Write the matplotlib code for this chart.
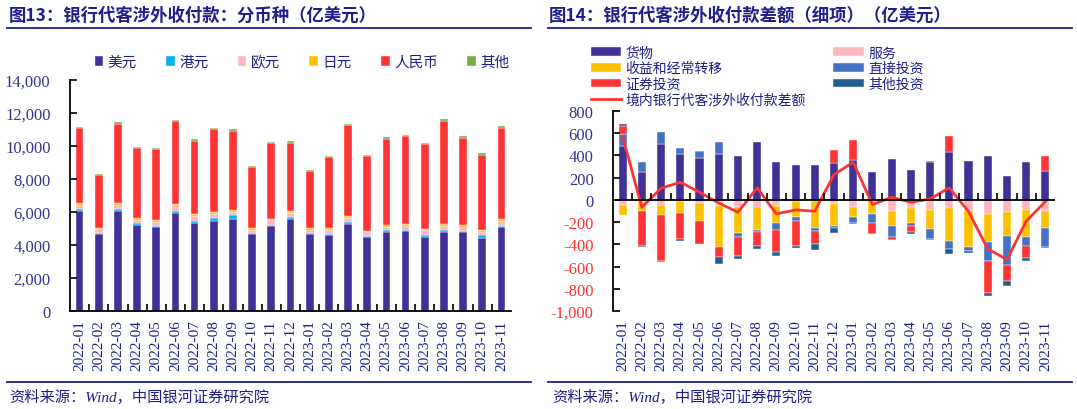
import numpy as np
import matplotlib
matplotlib.use('Agg')
from matplotlib import pyplot as plt
from matplotlib.ticker import FuncFormatter, FixedLocator

# Latin glyphs in Times-like serif, CJK glyphs fall back to Noto Sans CJK
plt.rcParams['font.family'] = ['Liberation Serif', 'Noto Sans CJK SC', 'DejaVu Sans']
plt.rcParams['axes.unicode_minus'] = False

months = ['2022-01', '2022-02', '2022-03', '2022-04', '2022-05', '2022-06', '2022-07', '2022-08',
          '2022-09', '2022-10', '2022-11', '2022-12', '2023-01', '2023-02', '2023-03', '2023-04',
          '2023-05', '2023-06', '2023-07', '2023-08', '2023-09', '2023-10', '2023-11']

# left chart: payments by currency (100 million USD)
usd = [6090, 4680, 6070, 5240, 5120, 5950, 5360, 5460, 5600, 4640, 5140, 5600,
       4640, 4580, 5300, 4460, 4780, 4820, 4480, 4800, 4760, 4440, 5100]
hkd = [100, 40, 140, 80, 60, 120, 120, 190, 190, 80, 100, 90,
       80, 80, 80, 60, 120, 100, 140, 120, 80, 140, 80]
eur = [240, 220, 220, 220, 240, 360, 270, 240, 240, 200, 280, 260,
       200, 260, 260, 240, 220, 240, 280, 260, 280, 200, 260]
jpy = [120, 120, 120, 120, 80, 80, 100, 100, 100, 100, 80, 120,
       100, 100, 110, 100, 120, 120, 100, 120, 80, 100, 120]
rmb = [4520, 3210, 4800, 4200, 4340, 5000, 4470, 5020, 4800, 3690, 4580, 4130,
       3490, 4330, 5500, 4530, 5200, 5320, 5100, 6210, 5300, 4600, 5550]
other_cur = [60, 40, 100, 80, 60, 80, 80, 80, 80, 60, 60, 100,
             60, 60, 80, 70, 80, 60, 100, 120, 100, 120, 80]
cur_names = ['美元', '港元', '欧元', '日元', '人民币', '其他']

# right chart: net balance by item (100 million USD)
goods = [483, 255, 504, 414, 378, 414, 399, 525, 345, 315, 318, 333,
         363, 249, 369, 270, 345, 435, 348, 396, 219, 345, 258]
services = [-42, -20, -42, -10, -30, -51, -60, -60, -51, -10, -10, -36,
            -66, -10, -96, -72, -87, -75, -96, -126, -111, -90, -96]
income = [-90, -76, -90, -107, -156, -375, -237, -210, -156, -140, -242, -201,
          -84, -116, -141, -135, -174, -291, -330, -249, -210, -246, -159]
direct = [114, 84, 105, 57, 60, 105, -33, -15, -63, -36, -30, -15,
          -60, -81, -99, -30, -90, -75, -30, -171, -264, -81, -165]
securities = [66, -321, -414, -234, -210, -84, -171, -132, -195, -231, -114, 117,
              180, -99, -24, -54, -6, 138, -8, -294, -147, -108, 135]
other_inv = [21, -9, -15, -21, 6, -66, -30, -24, -36, -18, -54, -48,
             -6, -3, -5, -15, 5, -45, -15, -21, -39, -21, -9]
net_total = [570, -66, 105, 159, 69, -27, -111, 108, -126, -90, -102, 228,
             339, -42, 24, -21, 9, 108, -105, -441, -537, -192, -15]

navy = '#1E1E8C'
tick_blue = '#34348F'
red = '#FF3333'
sans_cjk = ['Noto Sans CJK SC', 'DejaVu Sans']

fig = plt.figure(figsize=(10.77, 4.10), dpi=100)

# ---------- left chart
ax1 = fig.add_axes([70 / 1077, 1 - 312 / 410, 441 / 1077, 231 / 410])
x = np.arange(len(months))
cur_colors = ['#3F3196', '#00B0F0', '#FFB6BC', '#FFC000', '#FF3333', '#70AD47']
bottom = np.zeros(len(months))
for vals, name, c in zip([usd, hkd, eur, jpy, rmb, other_cur], cur_names, cur_colors):
    ax1.bar(x, vals, 0.4, bottom=bottom, color=c, label=name, edgecolor='white', linewidth=0.3)
    bottom = bottom + np.array(vals)

ax1.set_xlim(-0.5, len(months) - 0.5)
ax1.set_ylim(0, 14000)
ax1.set_yticks(np.arange(0, 14001, 2000))
ax1.yaxis.set_major_formatter(FuncFormatter(lambda v, p: f'{v:,.0f}'))
ax1.set_xticks(x)
ax1.set_xticklabels(months, rotation=90)
ax1.xaxis.set_minor_locator(FixedLocator(x[:-1] + 0.5))
ax1.tick_params(axis='x', which='major', length=0, pad=6, labelsize=11, labelcolor=navy)
ax1.tick_params(axis='x', which='minor', direction='in', length=5, width=1.2)
ax1.tick_params(axis='y', direction='in', length=5, width=1.2, labelsize=12, labelcolor=tick_blue, pad=14)
for s in ['top', 'right']:
    ax1.spines[s].set_visible(False)
for s in ['left', 'bottom']:
    ax1.spines[s].set_linewidth(1.3)

fig.legend(*ax1.get_legend_handles_labels(), loc='center', ncol=6,
           bbox_to_anchor=(302 / 1077, 1 - 63 / 410), frameon=False,
           handlelength=0.6, handleheight=0.6, handletextpad=0.3, columnspacing=2.0,
           prop={'size': 10.5, 'family': sans_cjk}, labelcolor=navy)

# ---------- right chart
ax2 = fig.add_axes([613 / 1077, 1 - 312 / 410, 442 / 1077, 200 / 410])
item_names = ['货物', '服务', '收益和经常转移', '直接投资', '证券投资', '其他投资']
item_colors = ['#3F3196', '#FFB6BC', '#FFC000', '#4472C4', '#FF3333', '#235D91']
pos_b = np.zeros(len(months))
neg_b = np.zeros(len(months))
bars = []
for vals, name, c in zip([goods, services, income, direct, securities, other_inv], item_names, item_colors):
    v = np.array(vals, dtype=float)
    b = np.where(v >= 0, pos_b, neg_b)
    bars.append(ax2.bar(x, v, 0.42, bottom=b, color=c, label=name, edgecolor='white', linewidth=0.3))
    pos_b = pos_b + np.where(v >= 0, v, 0)
    neg_b = neg_b + np.where(v < 0, v, 0)
line, = ax2.plot(x, net_total, color=red, lw=2, label='境内银行代客涉外收付款差额')

ax2.axhline(0, color='black', lw=1.3)
ax2.plot(x[:-1] + 0.5, np.zeros(len(months) - 1), ls='none', marker=2, ms=5, mew=1.2, color='black')
ax2.set_xlim(-0.5, len(months) - 0.5)
ax2.set_ylim(-1000, 800)
ax2.set_yticks(np.arange(-1000, 801, 200))
ax2.yaxis.set_major_formatter(FuncFormatter(lambda v, p: f'{v:,.0f}'))
ax2.set_xticks(x)
ax2.set_xticklabels(months, rotation=90)
ax2.tick_params(axis='x', length=0, pad=6, labelsize=11, labelcolor=navy)
ax2.tick_params(axis='y', direction='in', length=5, width=1.2, labelsize=12, pad=14)
for lab, v in zip(ax2.get_yticklabels(), np.arange(-1000, 801, 200)):
    lab.set_color(red if v < 0 else tick_blue)
for s in ['top', 'right', 'bottom']:
    ax2.spines[s].set_visible(False)
ax2.spines['left'].set_linewidth(1.3)

h = [bars[0], bars[2], bars[4], line, bars[1], bars[3], bars[5]]
fig.legend(h, [hh.get_label() for hh in h], loc='upper left', ncol=2,
           bbox_to_anchor=(578 / 1077, 1 - 34 / 410), frameon=False,
           handlelength=2.2, handleheight=0.6, handletextpad=0.3, columnspacing=2.0,
           labelspacing=0.12, prop={'size': 10, 'family': sans_cjk}, labelcolor=navy)

# ---------- titles and footers
fig.text(9 / 1077, 1 - 16 / 410, '图13：银行代客涉外收付款：分币种（亿美元）', fontsize=12.5,
         fontweight='bold', color=navy, va='center', ha='left', family=sans_cjk)
fig.text(549 / 1077, 1 - 16 / 410, '图14：银行代客涉外收付款差额（细项）（亿美元）', fontsize=12.5,
         fontweight='bold', color=navy, va='center', ha='left', family=sans_cjk)
for x0, x1 in [(7, 531), (548, 1072)]:
    fig.add_artist(plt.Line2D([x0 / 1077, x1 / 1077], [1 - 29 / 410] * 2, color=navy, lw=1.3))
    fig.add_artist(plt.Line2D([x0 / 1077, x1 / 1077], [1 - 383 / 410] * 2, color=navy, lw=1.3))
fig.text(9 / 1077, 1 - 397 / 410, '资料来源：Wind，中国银河证券研究院', fontsize=11,
         style='italic', color=navy, va='center', ha='left')
fig.text(552 / 1077, 1 - 397 / 410, '资料来源：Wind，中国银河证券研究院', fontsize=11,
         style='italic', color=navy, va='center', ha='left')

fig.savefig('out.png', dpi=100)
